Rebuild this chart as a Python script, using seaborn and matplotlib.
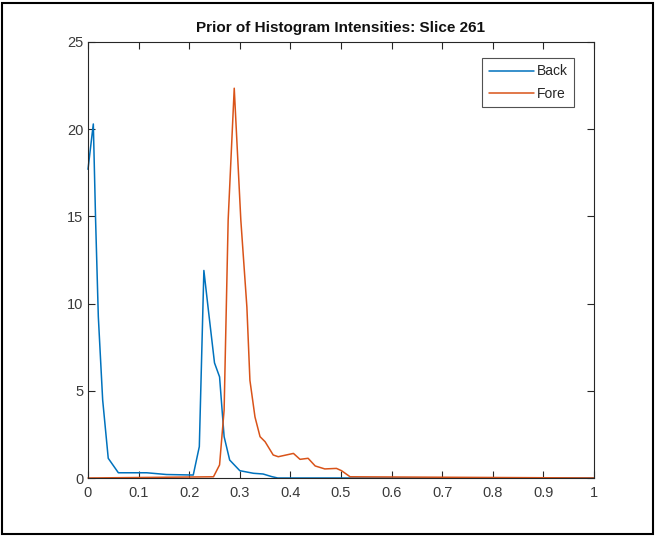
"""Prior of histogram intensities, MATLAB-style look."""

import numpy as np
import pandas as pd
import matplotlib
matplotlib.use("Agg")
import matplotlib.pyplot as plt
import seaborn as sns
from matplotlib.patches import Rectangle

# values
back_x = [0.0, 0.0105, 0.015, 0.0204, 0.029, 0.040, 0.06, 0.116, 0.155, 0.208,
          0.22, 0.229, 0.238, 0.25, 0.26, 0.269, 0.28, 0.30, 0.327, 0.346,
          0.363, 0.375, 1.0]
back_y = [17.7, 20.3, 14.8, 9.25, 4.47, 1.13, 0.3, 0.3, 0.2, 0.17,
          1.8, 11.9, 9.6, 6.6, 5.8, 2.37, 1.03, 0.42, 0.27, 0.23,
          0.08, 0.0, 0.0]

fore_x = [0.0, 0.248, 0.26, 0.269, 0.277, 0.289, 0.302, 0.314, 0.32, 0.33,
          0.34, 0.35, 0.366, 0.376, 0.406, 0.419, 0.435, 0.449, 0.468, 0.491,
          0.501, 0.518, 1.0]
fore_y = [0.0, 0.07, 0.75, 3.9, 14.8, 22.35, 14.8, 9.8, 5.6, 3.5,
          2.37, 2.08, 1.32, 1.22, 1.41, 1.07, 1.13, 0.69, 0.52, 0.55,
          0.42, 0.07, 0.0]

df = pd.concat([
    pd.DataFrame({"x": back_x, "y": back_y, "series": "Back"}),
    pd.DataFrame({"x": fore_x, "y": fore_y, "series": "Fore"}),
])

sns.set_style("white")
plt.rcParams["font.family"] = ["Liberation Sans", "DejaVu Sans"]

fig = plt.figure(figsize=(6.56, 5.37), dpi=100)
ax = fig.add_axes([88 / 656, 59 / 537, 506 / 656, 436 / 537])

sns.lineplot(data=df, x="x", y="y", hue="series", sort=False,
             palette={"Back": "#0072BD", "Fore": "#D95319"},
             linewidth=1.1, ax=ax)
for ln in ax.get_lines():
    ln.set_clip_on(False)

ax.set_xlim(0, 1)
ax.set_ylim(0, 25)
ax.set_xticks(np.arange(0, 1.01, 0.1))
ax.set_xticklabels(["0", "0.1", "0.2", "0.3", "0.4", "0.5", "0.6", "0.7",
                    "0.8", "0.9", "1"])
ax.set_yticks([0, 5, 10, 15, 20, 25])
ax.set_xlabel("")
ax.set_ylabel("")
ax.set_title("Prior of Histogram Intensities: Slice 261", fontsize=11,
             fontweight="bold", color="#111111", pad=7)

axcol = "#262626"
for s in ax.spines.values():
    s.set_color(axcol)
    s.set_linewidth(0.8)
ax.tick_params(direction="in", length=5, width=0.8, color=axcol,
               labelcolor="#3a3a3a", labelsize=10.5, top=True, right=True,
               bottom=True, left=True)
ax.tick_params(axis="x", pad=6)

leg = ax.legend(loc="upper right", frameon=True, fontsize=10,
                handlelength=3.3, handletextpad=0.15, borderpad=0.45,
                labelspacing=0.6, borderaxespad=0, fancybox=False,
                bbox_to_anchor=(0.96, 0.963))
leg.get_frame().set_edgecolor(axcol)
leg.get_frame().set_linewidth(0.8)

# outer frame around the figure
fig.patches.append(Rectangle((2 / 656, 3 / 537), 651 / 656, 531 / 537,
                             transform=fig.transFigure, fill=False,
                             edgecolor="black", linewidth=1.5))

fig.savefig("out.png", dpi=100)
